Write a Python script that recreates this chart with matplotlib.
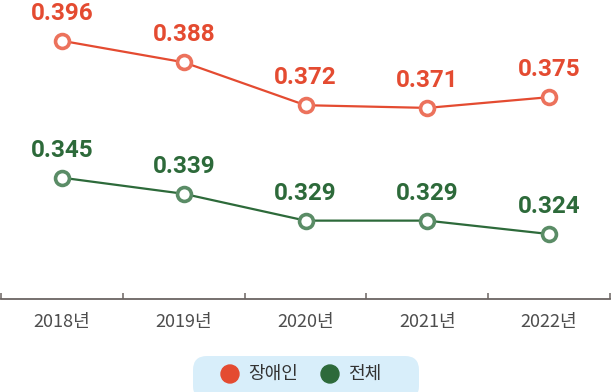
import matplotlib.pyplot as plt
from matplotlib.patches import FancyBboxPatch, Ellipse

plt.rcParams['font.family'] = ['Noto Sans CJK KR', 'DejaVu Sans']

# data
years = ['2018년', '2019년', '2020년', '2021년', '2022년']
disabled = [0.396, 0.388, 0.372, 0.371, 0.375]
total = [0.345, 0.339, 0.329, 0.329, 0.324]
series_names = ['장애인', '전체']

line_colors = ['#e44b31', '#2d6a3a']
marker_edges = ['#ec725c', '#5a8c66']

W, H = 612, 392
fig = plt.figure(figsize=(W / 100, H / 100), dpi=100)
ax = fig.add_axes([1/W, 93/H, 609/W, 299/H])

x = list(range(len(years)))
for vals, lc, mc in zip([disabled, total], line_colors, marker_edges):
    ax.plot(x, vals, color=lc, lw=1.6, marker='o', ms=10, mfc='white',
            mec=mc, mew=2.6, zorder=3)
    for xi, v in zip(x, vals):
        ax.annotate(f'{v:.3f}', (xi, v), xytext=(0, 15), textcoords='offset points',
                    ha='center', va='baseline', color=lc, fontsize=17.5,
                    fontweight='bold', family=['Roboto', 'DejaVu Sans'])

ax.set_xlim(-0.5, len(years) - 0.5)
ax.set_ylim(0.2998, 0.4112)

for s in ['top', 'left', 'right']:
    ax.spines[s].set_visible(False)
ax.spines['bottom'].set_color('#6b6462')
ax.spines['bottom'].set_linewidth(1.3)
ax.set_yticks([])
ax.set_xticks(x)
ax.set_xticklabels(years)
ax.tick_params(axis='x', which='major', length=0, pad=10, labelsize=13,
               labelcolor='#4d4d4d')
ax.set_xticks([i - 0.5 for i in range(len(years) + 1)], minor=True)
ax.tick_params(axis='x', which='minor', direction='in', length=4.5,
               width=1.1, color='#6b6462')
ax.patch.set_alpha(0)

# legend box
box = FancyBboxPatch((193 / W, 1 - 400 / H), 226 / W, 44 / H, transform=fig.transFigure,
                     boxstyle=f'round,pad=0,rounding_size={14 / W}',
                     fc='#d8eefa', ec='none', zorder=0, mutation_aspect=W / H)
fig.patches.append(box)
leg_x = [230, 330]
cy = 1 - 374 / H
for name, c, lx in zip(series_names, line_colors, leg_x):
    fig.patches.append(Ellipse((lx / W, cy), 18 / W, 18 / H,
                               transform=fig.transFigure, color=c))
    fig.text((lx + 18) / W, cy, name, ha='left', va='center',
             fontsize=13, color='#333333')

fig.savefig('out.png', dpi=100)
